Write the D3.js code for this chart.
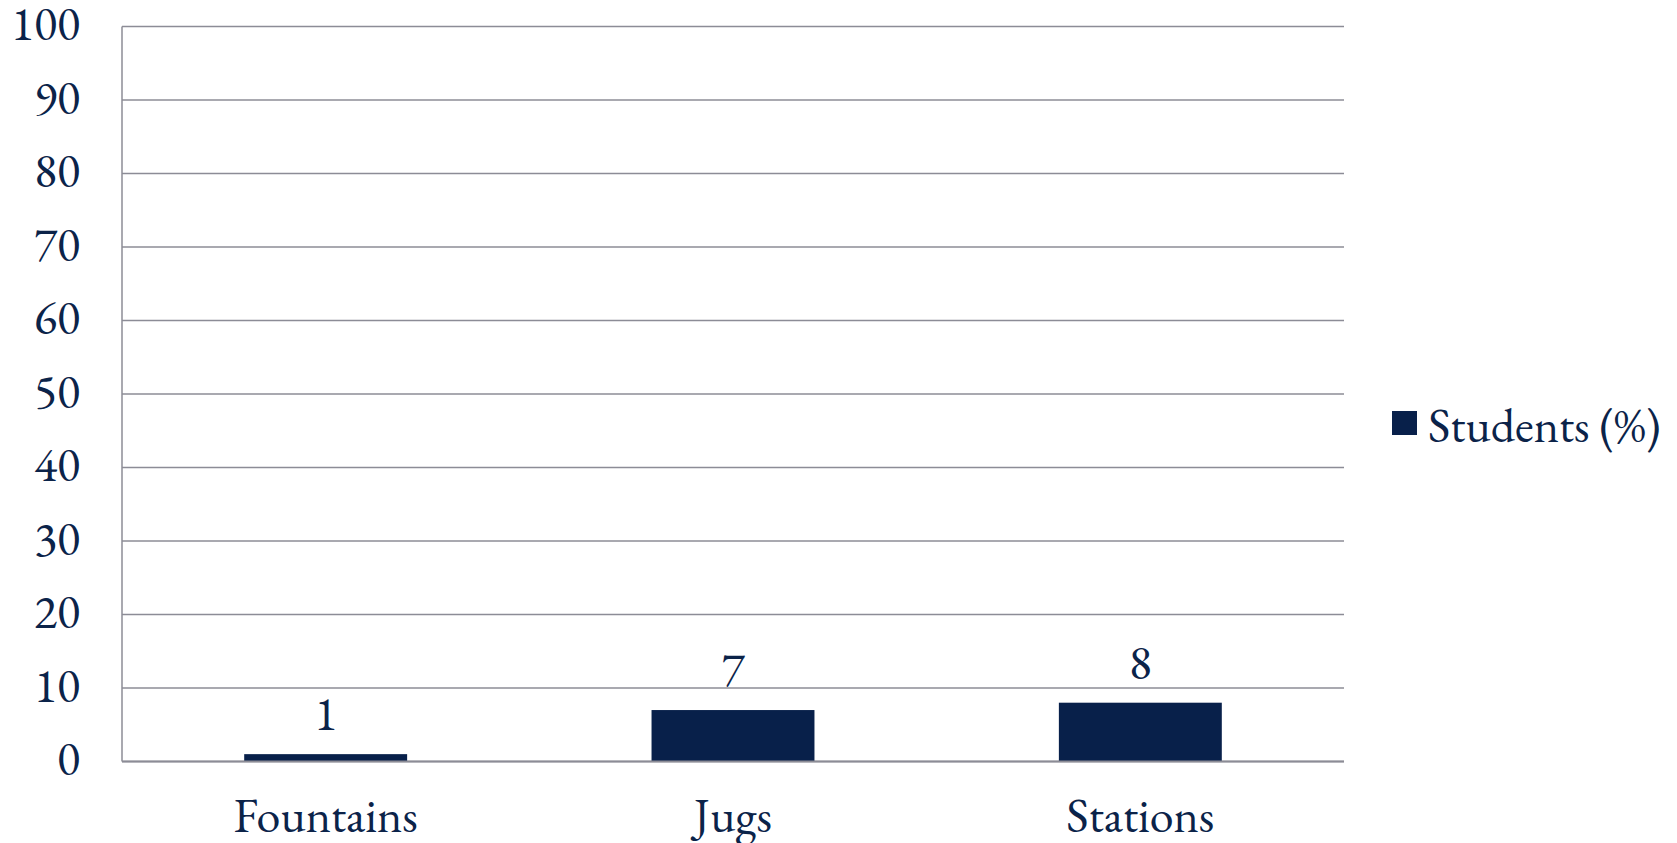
<!DOCTYPE html>
<html>
<head>
<meta charset="utf-8">
<script src="https://cdn.jsdelivr.net/npm/d3@7"></script>
<style>
  html, body { margin: 0; padding: 0; background: #ffffff; }
  svg { display: block; }
  text { font-family: "EB Garamond", Garamond, "Liberation Serif", "DejaVu Serif", serif; fill: #0b2349; }
</style>
</head>
<body>
<svg id="chart" width="1677" height="843"></svg>
<script>
// Share of students by water source
const categories = ["Fountains", "Jugs", "Stations"];
const values = [1, 7, 8];
const yTicks = [0, 10, 20, 30, 40, 50, 60, 70, 80, 90, 100];
const seriesName = "Students (%)";

const barColor = "#08204a";
const gridColor = "#8c8c96";
const fontSize = 48;

const svg = d3.select("#chart");
const margin = { left: 122, right: 333, top: 26.5, bottom: 81.5 };
const width = 1677 - margin.left - margin.right;
const height = 843 - margin.top - margin.bottom;

const g = svg.append("g").attr("transform", `translate(${margin.left},${margin.top})`);

const x = d3.scaleBand().domain(categories).range([0, width])
  .paddingInner(0.6).paddingOuter(0.3);
const y = d3.scaleLinear().domain([0, 100]).range([height, 0]);

// horizontal gridlines
g.append("g").selectAll("line").data(yTicks).join("line")
  .attr("x1", 0).attr("x2", width)
  .attr("y1", d => y(d)).attr("y2", d => y(d))
  .attr("stroke", gridColor).attr("stroke-width", 1.5);

// left axis line
g.append("line").attr("x1", 0).attr("x2", 0).attr("y1", 0).attr("y2", height)
  .attr("stroke", gridColor).attr("stroke-width", 1.5);

// y tick labels
const yAxis = d3.axisLeft(y).tickValues(yTicks).tickSize(0).tickPadding(42);
const ya = g.append("g").call(yAxis);
ya.select(".domain").remove();
ya.selectAll("text").attr("font-size", fontSize).attr("dy", "0.28em")
  .attr("font-family", null).attr("fill", null);

// bars
g.selectAll("rect.bar").data(values).join("rect")
  .attr("class", "bar")
  .attr("x", (d, i) => x(categories[i]))
  .attr("width", x.bandwidth())
  .attr("y", d => y(d))
  .attr("height", d => y(0) - y(d))
  .attr("fill", barColor);

// baseline drawn over the bars
g.append("line").attr("x1", 0).attr("x2", width).attr("y1", y(0)).attr("y2", y(0))
  .attr("stroke", gridColor).attr("stroke-width", 2);

// value labels
g.selectAll("text.val").data(values).join("text")
  .attr("class", "val")
  .attr("x", (d, i) => x(categories[i]) + x.bandwidth() / 2)
  .attr("y", d => y(d) - 24)
  .attr("text-anchor", "middle")
  .attr("font-size", fontSize)
  .text(d => d);

// category labels
const xAxis = d3.axisBottom(x).tickSize(0).tickPadding(0);
const xa = g.append("g").attr("transform", `translate(0,${height})`).call(xAxis);
xa.select(".domain").remove();
xa.selectAll("text").attr("font-size", fontSize).attr("dy", null).attr("y", 70)
  .attr("fill", null).attr("font-family", null);

// legend
const legend = svg.append("g").attr("transform", "translate(1392,411)");
legend.append("rect").attr("width", 25).attr("height", 24).attr("fill", barColor);
legend.append("text").attr("x", 36).attr("y", 31).attr("font-size", fontSize).text(seriesName);
</script>
</body>
</html>
